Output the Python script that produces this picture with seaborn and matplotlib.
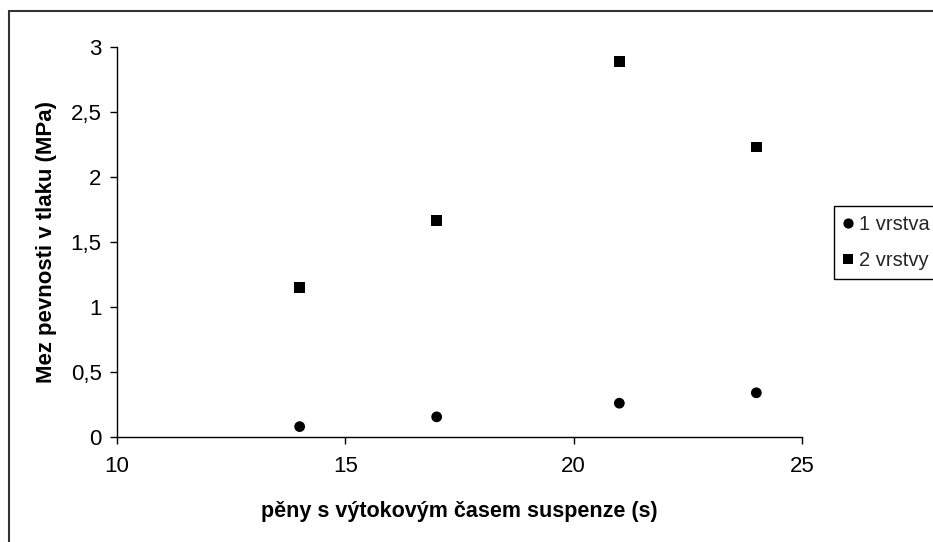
import numpy as np
import pandas as pd
import matplotlib
matplotlib.use('Agg')
import matplotlib.pyplot as plt
import seaborn as sns
from matplotlib.patches import Rectangle


# =========================
# DATA
# =========================
x_time = [14, 17, 21, 24]
layer1 = [0.08, 0.155, 0.26, 0.34]
layer2 = [1.15, 1.665, 2.89, 2.23]
series_names = ['1 vrstva', '2 vrstvy']

x_ticks = [10, 15, 20, 25]
y_ticks = [0, 0.5, 1, 1.5, 2, 2.5, 3]
y_tick_labels = ['0', '0,5', '1', '1,5', '2', '2,5', '3']

x_label = 'pěny s výtokovým časem suspenze (s)'
y_label = 'Mez pevnosti v tlaku (MPa)'

df = pd.DataFrame({
    'cas': x_time + x_time,
    'mez': layer1 + layer2,
    'serie': [series_names[0]] * len(x_time) + [series_names[1]] * len(x_time),
})


# =========================
# STYLE
# =========================
sns.set_theme(style='white')
plt.rcParams['font.family'] = ['Liberation Sans', 'DejaVu Sans']

fig = plt.figure(figsize=(9.33, 5.42), dpi=100)
ax = fig.add_axes([117 / 933, 1 - 437 / 542, (802 - 117) / 933, (437 - 47) / 542])

sns.scatterplot(
    data=df, x='cas', y='mez',
    hue='serie', style='serie',
    markers={series_names[0]: 'o', series_names[1]: 's'},
    palette={series_names[0]: 'black', series_names[1]: 'black'},
    s=60, linewidth=0, ax=ax
)

ax.set_xlim(10, 25)
ax.set_ylim(0, 3)
ax.set_xticks(x_ticks)
ax.set_xticklabels([str(t) for t in x_ticks])
ax.set_yticks(y_ticks)
ax.set_yticklabels(y_tick_labels)

for side in ['top', 'right']:
    ax.spines[side].set_visible(False)
for side in ['left', 'bottom']:
    ax.spines[side].set_color('black')
    ax.spines[side].set_linewidth(1.0)

ax.tick_params(axis='both', which='major', bottom=True, left=True,
               direction='out', length=5, width=1.0, color='black',
               labelsize=16, labelcolor='black')
ax.tick_params(axis='x', pad=9)
ax.tick_params(axis='y', pad=6)

# axis titles
ax.set_xlabel(x_label, fontsize=15.5, fontweight='bold', color='black')
ax.set_ylabel(y_label, fontsize=16, fontweight='bold', color='black')
ax.xaxis.label.set_verticalalignment('center')
ax.xaxis.set_label_coords(0.5, (437 - 511) / 390)
ax.yaxis.label.set_verticalalignment('center')
ax.yaxis.set_label_coords((46 - 117) / 685, 0.5)

# legend, touching the right edge of the canvas like the original
handles, labels = ax.get_legend_handles_labels()
ax.legend(handles, labels, loc='upper left',
          bbox_to_anchor=(834 / 933, 1 - 206 / 542), bbox_transform=fig.transFigure,
          frameon=True, fancybox=False, edgecolor='black', framealpha=1,
          fontsize=14.5, markerscale=0.95, handlelength=0.5, handletextpad=0.3,
          borderpad=0.45, labelspacing=0.85, borderaxespad=0)
ax.get_legend().get_frame().set_linewidth(1.0)

# chart area border (cut on right / bottom)
fig.add_artist(Rectangle((9 / 933, -0.1), 1.2, 1 - 10.5 / 542 + 0.1,
                         transform=fig.transFigure, fill=False,
                         edgecolor='#333333', linewidth=1.5, clip_on=False))

fig.savefig('out.png', dpi=100)
